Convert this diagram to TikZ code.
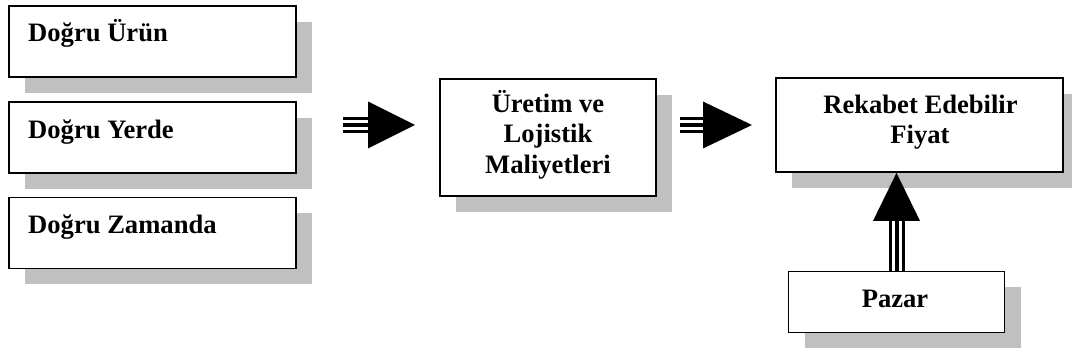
\documentclass[tikz,border=0pt]{standalone}
\usepackage{fontspec}
\setmainfont{Liberation Serif}
\usetikzlibrary{shadows,calc}
\definecolor{shadowgray}{RGB}{192,192,192}
\tikzset{
  box/.style={draw=black, line width=1.8pt, fill=white, inner sep=0pt,
    general shadow={fill=shadowgray, shadow xshift=16pt, shadow yshift=-16pt}},
  lbl/.style={font=\fontsize{26.6}{26.6}\selectfont\bfseries, inner sep=0pt, anchor=base},
  lbll/.style={lbl, anchor=base west},
  shaft/.style={draw=black, line width=3pt, double=white, double distance=10pt,
    postaction={draw=black, line width=4pt}},
  head/.style={fill=black},
}
\begin{document}
\begin{tikzpicture}[x=1pt, y=-1pt]
\useasboundingbox (0,0) rectangle (1072,358);

% left column of boxes
\node[box, minimum width=287pt, minimum height=71pt] (urun) at (152.3,41.3) {};
\node[box, minimum width=287pt, minimum height=71pt] (yer) at (152.3,137.5) {};
\node[box, minimum width=287pt, minimum height=71pt] (zaman) at (152.3,233) {};
\node[lbll] (turun) at (28,42) {Doğru Ürün};
\node[lbll] (tyer) at (28,138.5) {Doğru Yerde};
\node[lbll] (tzaman) at (28,234) {Doğru Zamanda};

% costs box
\node[box, minimum width=216pt, minimum height=117pt] (mal) at (548,137.5) {};
\node[lbl] (m1) at (548,112.5) {Üretim ve};
\node[lbl] (m2) at (548,143) {Lojistik};
\node[lbl] (m3) at (548,173.5) {Maliyetleri};

% price box
\node[box, minimum width=287pt, minimum height=94pt] (fiyat) at (919.5,125) {};
\node[lbl] (f1) at (920.5,114) {Rekabet Edebilir};
\node[lbl] (f2) at (920,143.5) {Fiyat};

% market box
\node[box, minimum width=216pt, minimum height=61pt] (pazar) at (896.5,302) {};
\node[lbl] (p1) at (895,308) {Pazar};

% arrow: inputs -> costs
\coordinate (a1s) at (343,125);
\coordinate (a1h) at (368,125);
\coordinate (a1t) at (415,125);
\draw[shaft] (a1s) -- ([xshift=1pt]a1h);
\fill[head] (a1t) -- ([yshift=23.5pt]a1h) -- ([yshift=-23.5pt]a1h) -- cycle;

% arrow: costs -> price
\coordinate (a2s) at (680,125);
\coordinate (a2h) at (703,125);
\coordinate (a2t) at (752,125);
\draw[shaft] (a2s) -- ([xshift=1pt]a2h);
\fill[head] (a2t) -- ([yshift=23.5pt]a2h) -- ([yshift=-23.5pt]a2h) -- cycle;

% arrow: market -> price
\coordinate (a3t) at (pazar.north |- fiyat.south);
\coordinate (a3h) at ($(a3t)+(0,48)$);
\draw[shaft] (pazar.north) -- ($(a3h)+(0,-1)$);
\fill[head] (a3t) -- ([xshift=23.5pt]a3h) -- ([xshift=-23.5pt]a3h) -- cycle;
\end{tikzpicture}
\end{document}
